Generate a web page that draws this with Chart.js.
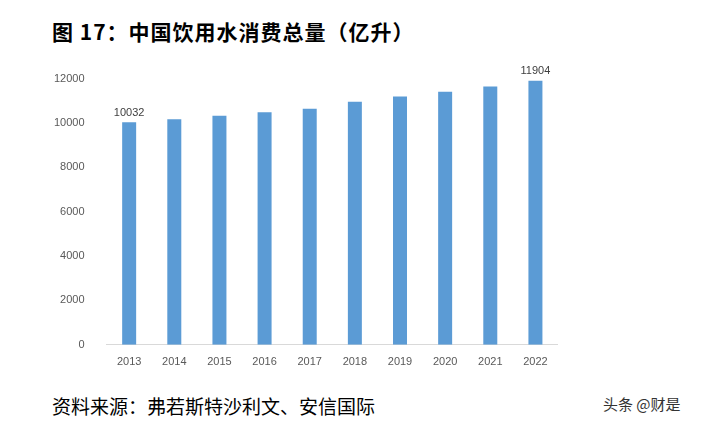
<!doctype html>
<html lang="zh">
<head>
<meta charset="utf-8" />
<script src="https://cdn.jsdelivr.net/npm/chart.js@4.4.3/dist/chart.umd.min.js"></script>
<style>
  body { margin: 0; width: 711px; height: 424px; background: #fff; position: relative; overflow: hidden; font-family: "Noto Sans CJK SC", sans-serif; }
  #title { position: absolute; left: 52px; top: 16px; font-size: 21px; font-weight: bold; color: #000; letter-spacing: 1px; }
  #source { position: absolute; left: 52px; top: 392px; font-size: 19px; color: #000; font-family: "Noto Sans CJK SC", serif; }
  #mark { position: absolute; left: 603px; top: 393px; font-size: 15px; color: #333; }
  #wrap { position: absolute; left: 40px; top: 58px; width: 518px; height: 314px; }
</style>
</head>
<body>
<div id="title">图 17：中国饮用水消费总量（亿升）</div>
<div id="wrap"><canvas id="c"></canvas></div>
<div id="source">资料来源：弗若斯特沙利文、安信国际</div>
<div id="mark">头条 @财是</div>
<script>
const years = ["2013","2014","2015","2016","2017","2018","2019","2020","2021","2022"];
const consumption = [10032, 10170, 10330, 10480, 10640, 10960, 11190, 11410, 11640, 11904];
const labelled = [0, 9];

new Chart(document.getElementById("c"), {
  type: "bar",
  data: {
    labels: years,
    datasets: [{ data: consumption, backgroundColor: "#5b9bd5", barPercentage: 0.31, categoryPercentage: 1 }],
  },
  options: {
    responsive: true,
    maintainAspectRatio: false,
    animation: false,
    layout: { padding: { left: 0, right: 0, top: 8, bottom: 0 } },
    plugins: { legend: { display: false }, tooltip: { enabled: false } },
    scales: {
      x: {
        grid: { display: false },
        border: { color: "#d9d9d9" },
        ticks: { color: "#595959", font: { size: 11, family: "Liberation Sans" } },
      },
      y: {
        min: 0, max: 12000,
        grid: { display: false },
        border: { display: false },
        ticks: { stepSize: 2000, color: "#595959", padding: 14, font: { size: 11, family: "Liberation Sans" }, callback: (v) => String(v) },
      },
    },
  },
  plugins: [{
    id: "valueLabels",
    afterDatasetsDraw(chart) {
      const ctx = chart.ctx;
      const meta = chart.getDatasetMeta(0);
      ctx.save();
      ctx.fillStyle = "#404040";
      ctx.font = "11px 'Liberation Sans'";
      ctx.textAlign = "center";
      ctx.textBaseline = "bottom";
      for (const i of labelled) {
        const el = meta.data[i];
        ctx.fillText(String(consumption[i]), el.x, el.y - 4);
      }
      ctx.restore();
    },
  }],
});
</script>
</body>
</html>
